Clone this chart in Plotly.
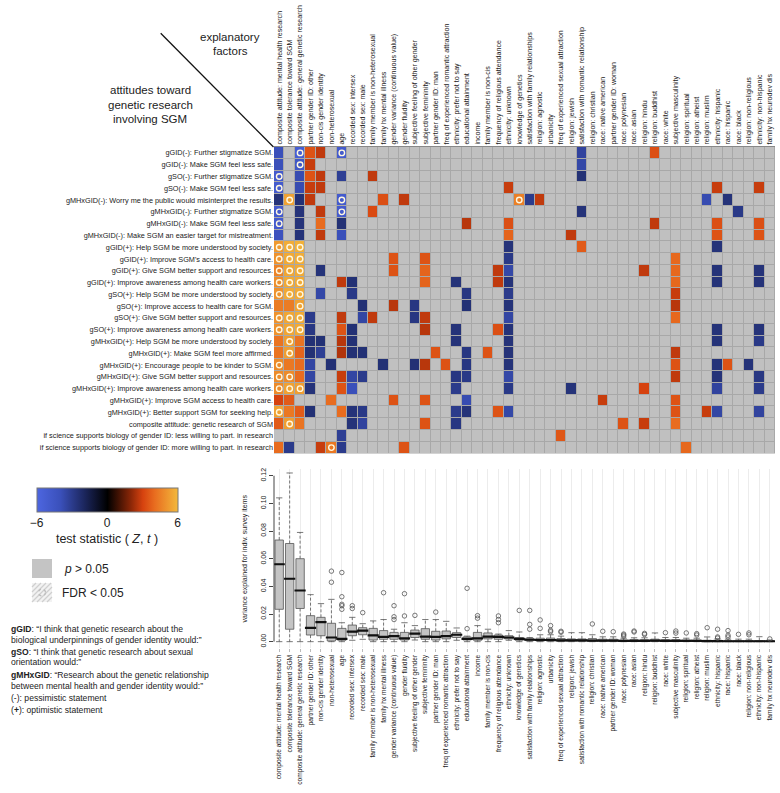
import plotly.graph_objects as go

# explanatory factors (columns, shared by heatmap and boxplot)
factors = [
    "composite attitude: mental health research", "composite tolerance toward SGM",
    "composite attitude: general genetic research", "partner gender ID: other",
    "non-cis gender identity", "non-heterosexual", "age", "recorded sex: intersex",
    "recorded sex: male", "family member is non-heterosexual", "family hx mental illness",
    "gender variance (continuous value)", "gender fluidity", "subjective feeling of other gender",
    "subjective femininity", "partner gender ID: man", "freq of experienced romantic attraction",
    "ethnicity: prefer not to say", "educational attainment", "income",
    "family member is non-cis", "frequency of religious attendance", "ethnicity: unknown",
    "knowledge of genetics", "satisfaction with family relationships", "religion: agnostic",
    "urbanicity", "freq of experienced sexual attraction", "religion: jewish",
    "satisfaction with romantic relationship", "religion: christian", "race: native american",
    "partner gender ID: woman", "race: polynesian", "race: asian", "religion: hindu",
    "religion: buddhist", "race: white", "subjective masculinity", "religion: spiritual",
    "religion: atheist", "religion: muslim", "ethnicity: hispanic", "race: hispanic",
    "race: black", "religion: non-religious", "ethnicity: non-hispanic", "family hx neurodev dis",
]

# survey items (rows)
items = [
    "gGID(-): Further stigmatize SGM.",
    "gGID(-): Make SGM feel less safe.",
    "gSO(-): Further stigmatize SGM.",
    "gSO(-): Make SGM feel less safe.",
    "gMHxGID(-): Worry me the public would misinterpret the results.",
    "gMHxGID(-): Further stigmatize SGM.",
    "gMHxGID(-): Make SGM feel less safe.",
    "gMHxGID(-): Make SGM an easier target for mistreatment.",
    "gGID(+): Help SGM be more understood by society.",
    "gGID(+): Improve SGM's access to health care.",
    "gGID(+): Give SGM better support and resources.",
    "gGID(+): Improve awareness among health care workers.",
    "gSO(+): Help SGM be more understood by society.",
    "gSO(+): Improve access to health care for SGM.",
    "gSO(+): Give SGM better support and resources.",
    "gSO(+): Improve awareness among health care workers.",
    "gMHxGID(+): Help SGM be more understood by society.",
    "gMHxGID(+): Make SGM feel more affirmed.",
    "gMHxGID(+): Encourage people to be kinder to SGM.",
    "gMHxGID(+): Give SGM better support and resources.",
    "gMHxGID(+): Improve awareness among health care workers.",
    "gMHxGID(+): Improve SGM access to health care.",
    "gMHxGID(+): Better support SGM for seeking help.",
    "composite attitude: genetic research of SGM",
    "if science supports biology of gender ID: less willing to part. in research",
    "if science supports biology of gender ID: more willing to part. in research",
]

# significant test statistics per row {column number: Z/t}, others p > 0.05
sig_stats = [
    {1: -4.0, 3: -5.3, 4: 3.4, 5: 2.7, 7: -5.0, 30: -3.4, 37: 3.3},
    {1: -4.0, 3: -4.6, 4: 2.8, 30: -3.6},
    {1: -5.0, 3: -3.8, 4: 3.4, 5: 2.7, 7: -3.2, 10: 2.7, 30: -2.5},
    {1: -5.0, 3: -3.8, 4: 2.8, 5: 2.7, 23: 2.8, 43: 2.8, 47: 2.8},
    {1: -2.6, 2: 5.4, 3: -2.5, 4: 2.7, 7: -5.0, 11: 3.3, 13: 2.7, 24: 4.5, 25: -3.0, 26: 2.7, 42: -3.8, 44: -2.6},
    {1: -5.0, 3: -2.6, 5: 2.7, 7: -5.0, 10: 3.2, 30: -2.6, 45: -2.9},
    {1: -5.0, 3: -2.6, 5: 4.0, 7: -2.5, 19: 2.6, 23: 3.3, 37: 2.7, 43: 3.3, 47: 3.3},
    {1: -4.2, 3: -2.6, 5: 2.7, 7: -4.0, 23: 3.8, 29: 2.7, 43: 3.4, 47: 3.4},
    {1: 5.2, 2: 5.7, 3: 5.8, 23: -2.6, 30: 3.6, 43: -2.6},
    {1: 5.0, 2: 5.6, 3: 5.7, 12: 3.4, 15: 3.4, 23: -2.9, 39: 3.9},
    {1: 4.6, 2: 5.5, 3: 5.6, 5: -2.6, 12: 3.4, 15: 3.8, 22: 2.7, 23: -3.6, 36: 2.7, 39: 3.9, 43: -2.6, 47: -2.6},
    {1: 4.9, 2: 5.6, 3: 5.6, 7: 2.7, 8: -2.5, 15: 3.8, 18: -2.6, 22: 2.7, 23: -2.6, 39: 3.9, 43: -2.6, 47: -2.6},
    {1: 5.0, 2: 5.6, 3: 5.6, 5: -3.6, 8: -2.9, 19: -2.8, 23: -3.0, 39: 2.8},
    {1: 4.4, 2: 4.4, 3: 5.4, 9: -2.5, 12: 2.6, 14: -2.8, 19: -2.5, 23: -2.6, 39: 2.6},
    {1: 5.0, 2: 5.5, 3: 5.6, 4: -3.0, 7: 2.7, 9: -3.5, 10: 2.7, 14: -2.8, 15: 2.7, 23: -3.5, 39: 3.9},
    {1: 5.0, 2: 5.5, 3: 5.6, 4: -2.8, 7: 3.4, 8: -2.5, 15: 2.6, 18: -2.6, 22: 3.3, 23: -2.6, 43: -2.6, 47: -2.6},
    {1: 4.2, 2: 5.3, 3: 4.2, 4: -2.5, 5: -2.5, 7: 2.6, 8: -2.5, 18: -2.6, 23: -2.6, 43: -2.6, 47: -2.9},
    {1: 4.2, 2: 5.3, 3: 3.8, 4: -2.5, 5: -3.2, 7: 2.5, 8: -2.5, 9: -2.5, 16: 3.4, 19: -2.8, 21: 3.4, 23: -2.6, 39: 2.7},
    {1: 4.8, 2: 4.3, 3: 4.0, 4: -3.5, 6: -2.5, 11: -2.5, 14: -2.5, 15: 2.6, 17: 3.4, 19: -2.8, 23: -2.6, 39: 3.4, 43: -2.6, 44: 3.4, 46: -2.6},
    {1: 4.8, 2: 4.8, 3: 4.0, 4: -3.5, 7: 2.8, 8: -3.5, 9: -3.0, 18: -2.8, 19: -2.9, 23: -3.6, 39: 2.7, 43: -2.6, 47: -2.8},
    {1: 4.8, 2: 5.4, 3: 5.3, 4: -2.6, 7: 3.4, 8: -4.0, 18: -3.0, 23: -2.9, 29: -2.6, 36: 3.0, 43: -3.4, 47: -3.0},
    {1: 3.0, 2: 3.6, 6: 4.0, 12: 3.4, 15: 3.4, 19: -3.8, 32: 2.8, 39: 3.4},
    {1: 5.4, 2: 4.3, 3: 3.6, 4: -2.5, 7: 4.0, 8: -2.6, 9: -2.9, 18: -3.0, 19: -2.6, 22: 3.4, 23: -3.6, 39: 3.4, 42: 2.8, 43: -3.5, 47: -3.4},
    {1: 3.6, 2: 5.3, 3: 4.2, 8: -2.6, 9: -3.4, 15: 3.4, 18: -2.8, 34: 3.4, 36: 2.8, 39: 4.0},
    {7: -3.2, 28: 3.5},
    {1: 4.0, 2: -3.0, 5: 2.8, 6: 4.3, 7: -3.0, 13: 3.4, 40: 3.9},
]

# cells with FDR < 0.05 per row (column numbers)
fdr_cells = [
    [3, 7], [3], [1], [1], [2, 7, 24], [1, 7], [1], [],
    [1, 2, 3], [1, 2, 3], [1, 2, 3], [1, 2, 3], [1, 2, 3], [3], [1, 2, 3], [1, 2, 3],
    [2], [2], [1], [1, 2], [1, 2, 3], [], [1], [2], [], [6],
]

# variance explained boxplot stats per factor
box_low = [0, 0, 0, 0, 0, 0, 0, 0.001, 0.0017, 0, 0, 0, 0, 0.0012, 0, 0, 0, 0.001, 0, 0, 0, 0, 0.001, 0, 0,
           0, 0, 0, 0, 0, 0, 0, 0, 0, 0, 0, 0, 0, 0, 0, 0, 0, 0, 0, 0, 0, 0, 0]
box_q1 = [0.0234, 0.009, 0.024, 0.0048, 0.0043, 0.0005, 0.001, 0.0043, 0.005, 0.0012, 0.0017, 0.0017, 0.0012,
          0.003, 0.0017, 0.0012, 0.002, 0.003, 0.0012, 0.001, 0.002, 0.0017, 0.002, 0.001, 0.0007,
          0.0004, 0.0004, 0.0003, 0.0003, 0.0003, 0.0002, 0.0002, 0.0002, 0.0001, 0.0002, 0.0002, 0.0002,
          0.0002, 0.0002, 0.0001, 0.0001, 0.0001, 0.0001, 0.0001, 0.0001, 0.0001, 0.0001, 0.0001]
box_median = [0.056, 0.0455, 0.037, 0.0099, 0.0142, 0.003, 0.002, 0.0072, 0.008, 0.0046, 0.0034, 0.004, 0.0024,
              0.0058, 0.0036, 0.0034, 0.004, 0.005, 0.002, 0.0024, 0.0036, 0.0034, 0.003, 0.002, 0.0014,
              0.0012, 0.0012, 0.001, 0.0009, 0.0009, 0.0008, 0.0007, 0.0007, 0.0005, 0.0006, 0.0006, 0.0007,
              0.0006, 0.0006, 0.0005, 0.0005, 0.0004, 0.0004, 0.0003, 0.0003, 0.0003, 0.0003, 0.0003]
box_q3 = [0.0735, 0.071, 0.060, 0.0188, 0.0176, 0.0133, 0.0096, 0.012, 0.0101, 0.0096, 0.008, 0.0067, 0.0067,
          0.0084, 0.0094, 0.0075, 0.0077, 0.0065, 0.0034, 0.0067, 0.0063, 0.0048, 0.0043, 0.003, 0.0024,
          0.0025, 0.0026, 0.0022, 0.002, 0.002, 0.0022, 0.0018, 0.0018, 0.0012, 0.0015, 0.0015, 0.0018,
          0.0015, 0.0015, 0.0012, 0.0012, 0.001, 0.001, 0.0008, 0.0008, 0.0008, 0.0008, 0.0007]
box_high = [0.104, 0.122, 0.079, 0.034, 0.0275, 0.0306, 0.0137, 0.0176, 0.013, 0.015, 0.016, 0.009, 0.0137,
            0.0116, 0.016, 0.016, 0.0147, 0.0099, 0.004, 0.0116, 0.009, 0.0055, 0.008, 0.007, 0.003,
            0.005, 0.005, 0.004, 0.0065, 0.0065, 0.005, 0.0035, 0.0035, 0.0025, 0.0028, 0.0028, 0.0063,
            0.003, 0.003, 0.0025, 0.0025, 0.0034, 0.002, 0.0018, 0.0018, 0.0018, 0.0036, 0.0012]
box_outliers = [
    [], [], [], [], [], [0.051, 0.043], [0.050, 0.0325, 0.027, 0.026, 0.0234], [0.026, 0.024], [0.021], [],
    [0.0354], [0.026, 0.018, 0.016], [0.0347, 0.0186], [0.019], [], [0.0214], [], [], [0.0386, 0.0094],
    [0.0188, 0.017], [], [0.0186, 0.016, 0.0137], [], [0.0226], [0.0226, 0.0125, 0.009],
    [0.0157, 0.0096], [0.0116, 0.0082, 0.0072], [0.0075, 0.0068], [], [], [0.0128], [0.0075], [0.0072],
    [0.0055, 0.0048, 0.004], [0.0077, 0.007], [0.006, 0.0052], [], [0.0065], [0.0077, 0.0062], [0.0063],
    [0.0058, 0.0048], [0.0101], [0.009, 0.0034, 0.0026], [0.008, 0.0046, 0.0034], [0.0053],
    [0.0063, 0.005], [], [0.002],
]

y_ticks = [0, 0.02, 0.04, 0.06, 0.08, 0.10, 0.12]
cbar_ticks = [-6, 0, 6]

W, H = 780, 793
FONT = "Liberation Sans, Arial, Helvetica, sans-serif"


def px(x):
    return x / W


def py(y):
    return 1 - y / H


ncol, nrow = len(factors), len(items)
xs = list(range(1, ncol + 1))
ys = list(range(1, nrow + 1))

z = [[float("nan")] * ncol for _ in range(nrow)]
for r, cells in enumerate(sig_stats):
    for c, v in cells.items():
        z[r][c - 1] = v

fdr_x, fdr_y = [], []
for r, cells in enumerate(fdr_cells):
    for c in cells:
        fdr_x.append(c)
        fdr_y.append(r + 1)

colorscale = [
    [0.0, "#4d66e0"], [0.167, "#3a50ba"], [0.25, "#2b3b8b"], [0.333, "#1c275f"],
    [0.5, "#000000"], [0.667, "#8c2707"], [0.75, "#d6420f"], [0.833, "#e86c1f"], [1.0, "#f3b93c"],
]

hm_dom_x = [px(274), px(775)]
hm_dom_y = [py(453.5), py(147)]
bx_dom_y = [py(648.3), py(469.1)]

fig = go.Figure()
fig.add_trace(go.Heatmap(
    x=xs, y=ys, z=[[0] * ncol for _ in range(nrow)],
    colorscale=[[0, "#c0c0c0"], [1, "#c0c0c0"]], showscale=False,
    xgap=1, ygap=1, hoverinfo="skip",
))
fig.add_trace(go.Heatmap(
    x=xs, y=ys, z=z, zmin=-6, zmax=6, colorscale=colorscale,
    xgap=1, ygap=1, hoverinfo="skip",
    colorbar=dict(
        orientation="h", x=px(107), xanchor="center", y=py(487.5), yanchor="top",
        len=141, lenmode="pixels", thickness=24, thicknessmode="pixels",
        xpad=0, ypad=0, outlinewidth=1, outlinecolor="#777",
        tickvals=cbar_ticks, ticks="", tickfont=dict(size=12, color="#222", family=FONT),
        title=dict(text="test statistic ( <i>Z</i>, <i>t</i> )", side="bottom",
                   font=dict(size=12.5, color="#222", family=FONT)),
    ),
))
fig.add_trace(go.Scatter(
    x=fdr_x, y=fdr_y, mode="markers", hoverinfo="skip", showlegend=False,
    marker=dict(symbol="circle-open", size=5.5, color="#fff8e0", line=dict(width=1.4, color="#fff8e0")),
))

# boxplot: dashed whiskers with caps (R style), then boxes, thick medians, outliers
wx, wy, cx, cy = [], [], [], []
for i in range(ncol):
    wx += [i + 1, i + 1, None, i + 1, i + 1, None]
    wy += [box_q3[i], box_high[i], None, box_q1[i], box_low[i], None]
    cx += [i + 1, i + 1]
    cy += [box_high[i], box_low[i]]
fig.add_trace(go.Scatter(
    x=wx, y=wy, xaxis="x2", yaxis="y2", mode="lines", showlegend=False, hoverinfo="skip",
    line=dict(color="#555", width=0.8, dash="3px,2px"),
))
fig.add_trace(go.Scatter(
    x=cx, y=cy, xaxis="x2", yaxis="y2", mode="markers", showlegend=False, hoverinfo="skip",
    marker=dict(symbol="line-ew", size=4.5, line=dict(width=0.8, color="#555")),
))
fig.add_trace(go.Box(
    x=xs, q1=box_q1, median=box_median, q3=box_q3, lowerfence=box_q1, upperfence=box_q3,
    xaxis="x2", yaxis="y2", width=0.8, whiskerwidth=0, fillcolor="#c4c4c4",
    line=dict(color="#555", width=0.8), boxpoints=False, showlegend=False, hoverinfo="skip",
))
fig.add_trace(go.Scatter(
    x=xs, y=box_median, xaxis="x2", yaxis="y2", mode="markers", showlegend=False, hoverinfo="skip",
    marker=dict(symbol="line-ew", size=8, line=dict(width=2.2, color="#111")),
))
ox, oy = [], []
for i, outs in enumerate(box_outliers):
    for v in outs:
        ox.append(i + 1)
        oy.append(v)
fig.add_trace(go.Scatter(
    x=ox, y=oy, xaxis="x2", yaxis="y2", mode="markers", showlegend=False, hoverinfo="skip",
    marker=dict(symbol="circle-open", size=4.5, color="#555", line=dict(width=0.8)),
))

fig.update_layout(
    width=W, height=H, margin=dict(l=0, r=0, t=0, b=0, autoexpand=False),
    paper_bgcolor="white", plot_bgcolor="white",
    font=dict(family=FONT, color="#222"),
    xaxis=dict(domain=hm_dom_x, range=[0.5, ncol + 0.5], side="top", tickvals=xs, ticktext=factors,
               tickangle=-90, tickfont=dict(size=7.1), showgrid=False, zeroline=False, ticks="",
               showline=True, linecolor="#888", linewidth=1, anchor="y", automargin=False),
    yaxis=dict(domain=hm_dom_y, range=[nrow + 0.5, 0.5], tickvals=ys, ticktext=items,
               tickfont=dict(size=7.3), showgrid=False, zeroline=False, ticks="", anchor="x",
               automargin=False),
    xaxis2=dict(domain=hm_dom_x, range=[0.5, ncol + 0.5], tickvals=xs, ticktext=factors,
                tickangle=-90, tickfont=dict(size=6.6), showgrid=True, gridcolor="#ececec",
                gridwidth=0.6, zeroline=False, ticks="outside", ticklen=3, tickcolor="#bbb",
                anchor="y2", automargin=False),
    yaxis2=dict(domain=bx_dom_y, range=[-0.0048, 0.1248], tickvals=y_ticks,
                ticktext=["%.2f" % v for v in y_ticks], tickangle=-90, tickfont=dict(size=7),
                showgrid=False, zeroline=False, ticks="outside", ticklen=4, tickcolor="#444",
                anchor="x2", automargin=False,
                title=dict(text="variance explained for indiv. survey items", font=dict(size=7), standoff=11)),
)

shapes = [
    dict(type="rect", xref="paper", yref="paper", x0=hm_dom_x[0], x1=hm_dom_x[1], y0=hm_dom_y[0],
         y1=hm_dom_y[1], fillcolor="#a8a8a8", line=dict(width=0), layer="below"),
    dict(type="line", xref="paper", yref="y2", x0=hm_dom_x[0], x1=hm_dom_x[0], y0=0, y1=0.12,
         line=dict(color="#444", width=1)),
    dict(type="line", xref="paper", yref="paper", x0=px(160.7), y0=py(33.3), x1=px(273.5), y1=py(147),
         line=dict(color="#111", width=1.3)),
    # legend: p > 0.05
    dict(type="rect", xref="paper", yref="paper", x0=px(32), x1=px(52), y0=py(578), y1=py(559),
         fillcolor="#c4c4c4", line=dict(width=0)),
    # legend: FDR < 0.05 (hatched square with ring)
    dict(type="rect", xref="paper", yref="paper", x0=px(32), x1=px(52), y0=py(602), y1=py(583),
         fillcolor="#f2f2f2", line=dict(width=0)),
]
for k in range(-3, 5):
    x0, x1 = 32 + k * 5, 32 + k * 5 + 19
    y0, y1 = 602, 583
    if x0 < 32:
        y0 -= 32 - x0
        x0 = 32
    if x1 > 52:
        y1 += x1 - 52
        x1 = 52
    shapes.append(dict(type="line", xref="paper", yref="paper", x0=px(x0), y0=py(y0), x1=px(x1), y1=py(y1),
                       line=dict(color="#cfcfcf", width=1.2)))
shapes.append(dict(type="circle", xref="paper", yref="paper", x0=px(38.5), x1=px(45.5), y0=py(596), y1=py(589),
                   line=dict(color="#bdbdbd", width=1.3, dash="dot")))
fig.update_layout(shapes=shapes)

ann = [
    dict(text="explanatory", x=px(230), y=py(37)),
    dict(text="factors", x=px(230), y=py(51.5)),
    dict(text="attitudes toward", x=px(150), y=py(90)),
    dict(text="genetic research", x=px(150), y=py(104.5)),
    dict(text="involving SGM", x=px(150), y=py(119)),
]
annotations = [dict(a, xref="paper", yref="paper", showarrow=False, xanchor="center", yanchor="middle",
                    font=dict(size=11.5, color="#222")) for a in ann]
annotations += [
    dict(text="<i>p</i> > 0.05", x=px(62), y=py(568.5), xref="paper", yref="paper", showarrow=False,
         xanchor="left", yanchor="middle", font=dict(size=12, color="#222")),
    dict(text="FDR &lt; 0.05", x=px(60), y=py(592.5), xref="paper", yref="paper", showarrow=False,
         xanchor="left", yanchor="middle", font=dict(size=12, color="#222")),
]
notes = [
    ("<b>gGID</b>: \u201cI think that genetic research about the", 629),
    ("biological underpinnings of gender identity would:\u201d", 639.5),
    ("<b>gSO</b>: \u201cI think that genetic research about sexual", 652),
    ("orientation would:\u201d", 662),
    ("<b>gMHxGID</b>: \u201cResearch about the genetic relationship", 675),
    ("between mental health and gender identity would:\u201d", 685.5),
    ("(-): pessimistic statement", 698),
    ("(<b>+</b>): optimistic statement", 710),
]
for t, y in notes:
    annotations.append(dict(text=t, x=px(9), y=py(y), xref="paper", yref="paper", showarrow=False,
                            xanchor="left", yanchor="middle", font=dict(size=8.6, color="#222")))
fig.update_layout(annotations=annotations)

# the page's default body margin would push the fixed-size figure off the window
fig.write_html("out.html", config={"displayModeBar": False},
               post_script="document.body.style.margin='0px';")
